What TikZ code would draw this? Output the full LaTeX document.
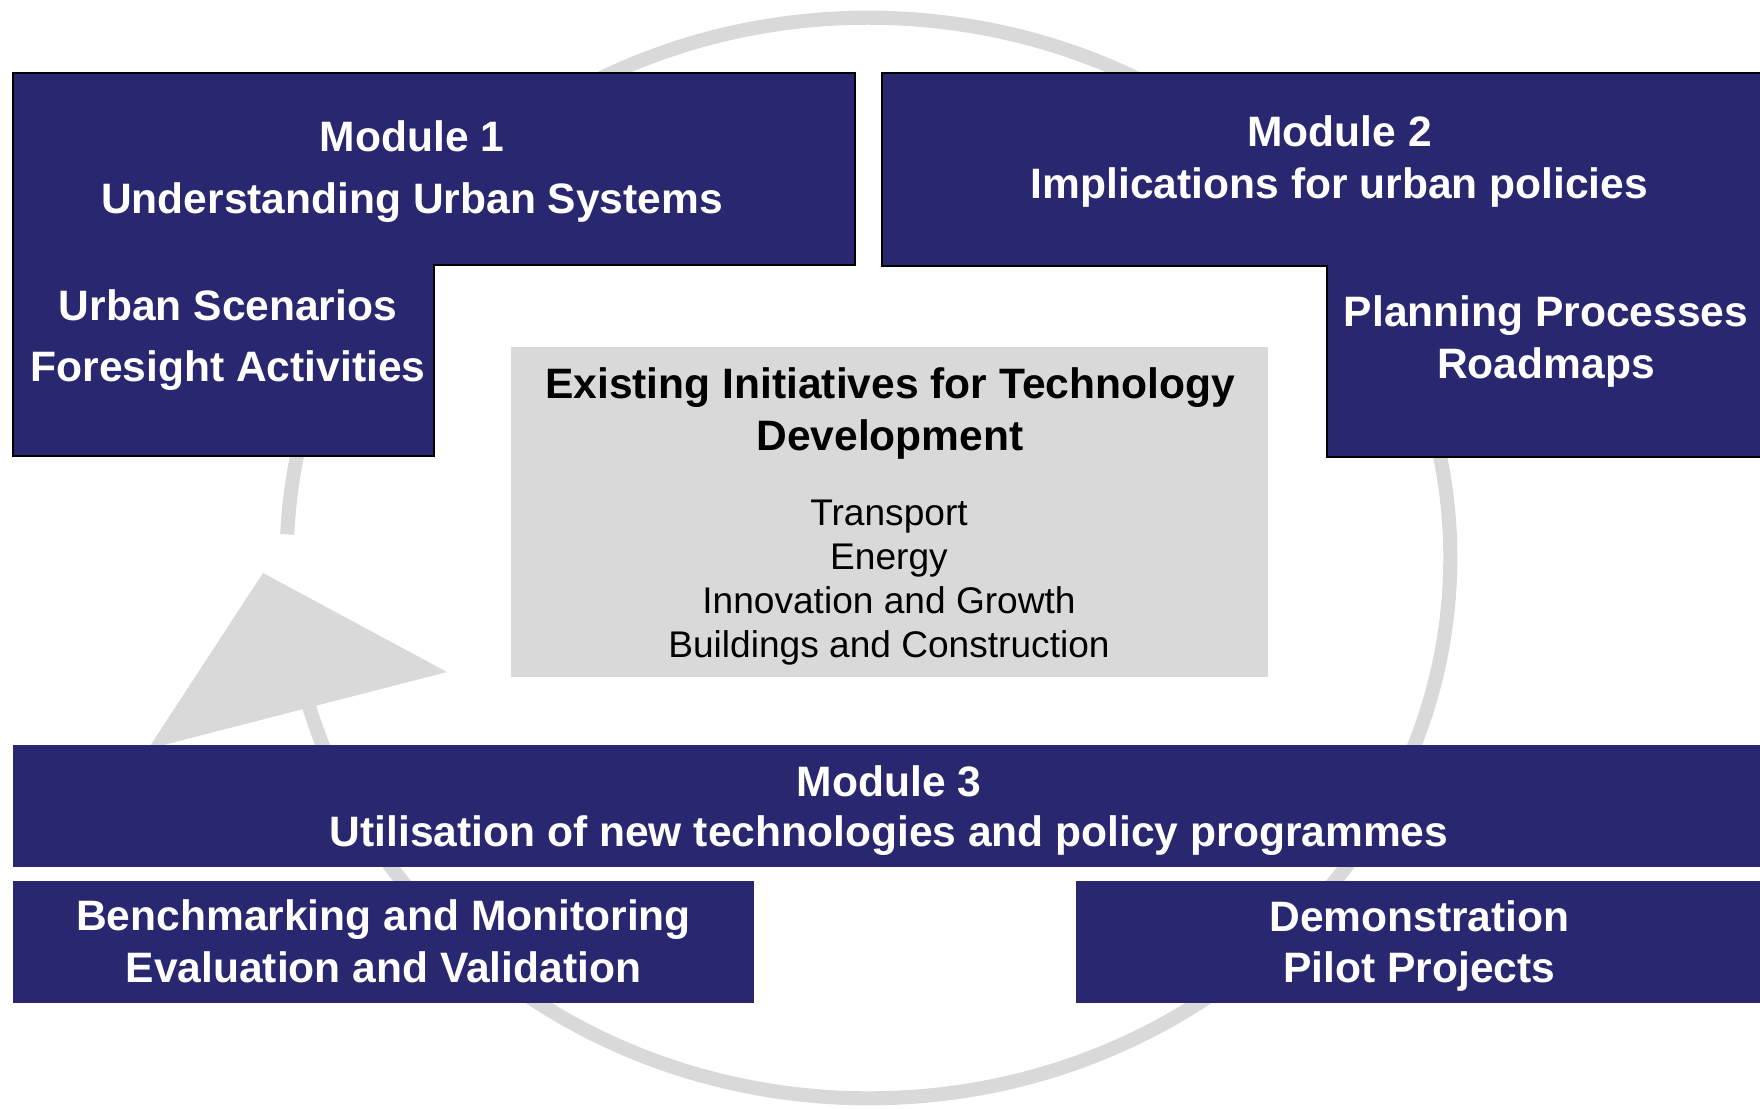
\documentclass[tikz,border=0pt]{standalone}
\usepackage{fontspec}
\setmainfont{Liberation Sans}
\definecolor{cNavy}{HTML}{29276F}
\definecolor{cGris}{HTML}{D9D9D9}
\definecolor{cAro}{HTML}{D9D9D9}

\begin{document}
\begin{tikzpicture}[
    x=0.01cm, y=0.01cm,
    ring/.style={draw=cAro, line width=4pt},
    tip/.style={fill=cAro},
    mod/.style={fill=cNavy, draw=black, line width=0.6pt},
    band/.style={fill=cNavy},
    shade/.style={fill=cGris},
    head/.style={font=\bfseries\fontsize{12.1}{#1}\selectfont, text=white,
                 align=center, anchor=base, inner sep=0pt},
    head/.default=14.7,
    item/.style={font=\fontsize{10.55}{12.5}\selectfont, text=black,
                 align=center, anchor=base, inner sep=0pt},
]

\useasboundingbox (0,0) rectangle (1760,-1108);
\clip (0,0) rectangle (1760,-1108);

% ===================== Ciclo con punta de flecha =====================
% centro (868.5,-558), semiejes 581.5 y 540
\coordinate (ctr) at (868.5,-558);
\draw[ring] (ctr) ++(177.5:5.815cm and 5.4cm)
      arc[start angle=177.5, end angle=-165, x radius=5.815cm, y radius=5.4cm];
\fill[tip] (263,-573) -- (447,-672) -- (148,-749) -- cycle;

% ===================== Module 1 / Module 2 =====================
\draw[mod] (13,-73) -- (855,-73) -- (855,-265) -- (434,-265)
      -- (434,-456) -- (13,-456) -- cycle;
\draw[mod] (882,-73) -- (1775,-73) -- (1775,-457) -- (1327,-457)
      -- (1327,-266) -- (882,-266) -- cycle;

% (base = línea de base de la última fila)
\node[head=17.4] (m1) at (412,-213) {Module 1\\Understanding Urban Systems};
\node[head=17.4] (m1sub) at (228,-381.7) {Urban Scenarios\\Foresight Activities};
\node[head=14.7] (m2) at (1339.5,-198.3) {Module 2\\Implications for urban policies};
\node[head=14.8] (m2sub) at (1546,-378.3) {Planning Processes\\Roadmaps};

% ===================== Iniciativas existentes =====================
\fill[shade] (511,-347) rectangle (1268,-677);
\node[head=14.7, text=black] (ini) at (890,-450)
      {Existing Initiatives for Technology\\Development};
\node[item] (areas) at (889,-657.4)
      {Transport\\Energy\\Innovation and Growth\\Buildings and Construction};

% ===================== Module 3 =====================
\fill[band] (13,-745) rectangle (1775,-867);
\fill[band] (13,-881) rectangle (754,-1003);
\fill[band] (1076,-881) rectangle (1775,-1003);

\node[head=14.2] (m3) at (889,-846.4)
      {Module 3\\Utilisation of new technologies and policy programmes};
\node[head=14.8] (bench) at (383.5,-982.6)
      {Benchmarking and Monitoring\\Evaluation and Validation};
\node[head=14.6] (demo) at (1419.5,-982.6) {Demonstration\\Pilot Projects};

\end{tikzpicture}
\end{document}
